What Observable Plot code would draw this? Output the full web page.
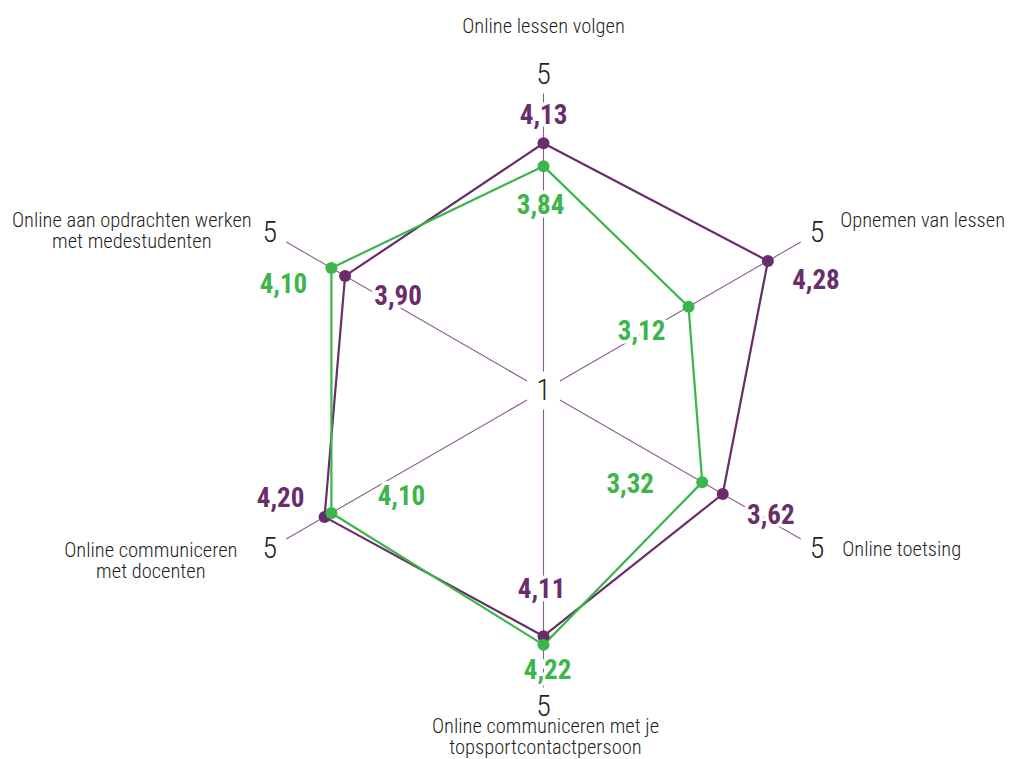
<!DOCTYPE html>
<html><head><meta charset="utf-8">
<script src="https://cdn.jsdelivr.net/npm/d3@7"></script>
<script src="https://cdn.jsdelivr.net/npm/@observablehq/plot@0.6"></script>
<style>
html,body{margin:0;padding:0;background:#fff}
#chart svg{display:block}
</style>
</head><body><div id="chart"></div>
<script>
// ---- data ----
const categories = [
  "Online lessen volgen",
  "Opnemen van lessen",
  "Online toetsing",
  "Online communiceren met je topsportcontactpersoon",
  "Online communiceren met docenten",
  "Online aan opdrachten werken met medestudenten"
];
const categoryLines = [
  "Online lessen volgen",
  "Opnemen van lessen",
  "Online toetsing",
  "Online communiceren met je\ntopsportcontactpersoon",
  "Online communiceren\nmet docenten",
  "Online aan opdrachten werken\nmet medestudenten"
];
const purpleValues = [4.13, 4.28, 3.62, 4.11, 4.20, 3.90];
const greenValues  = [3.84, 3.12, 3.32, 4.22, 4.10, 4.10];
const scaleMin = 1, scaleMax = 5;
const tickLabels = ["1", "5"];

// ---- layout / style ----
const W = 1009, H = 759, CX = 543, CY = 390, R = 316;
const PURPLE = "#682d6a", GREEN = "#3cb54a", AXIS = "#8c5a8e", INK = "#1f1f1f";
const FONT = "'Roboto Condensed', 'DejaVu Sans Condensed', 'Liberation Sans Narrow', Roboto, sans-serif";
const purpleLabelOffsets = [[0,-28],[48,19],[48,21],[-2,-47],[-44,-19],[53,20]];
const greenLabelOffsets  = [[-3,39],[-47,25],[-72,2],[4,25],[70,-17],[-48,16]];
const catOffsets = [
  {dx:0, dy:-48, anchor:"middle"},
  {dx:23, dy:-12, anchor:"start"},
  {dx:25, dy:1, anchor:"start"},
  {dx:2, dy:30, anchor:"middle"},
  {dx:-119, dy:12, anchor:"middle"},
  {dx:-138, dy:-1.5, anchor:"middle"}
];

const n = categories.length;
const angle = i => i * 2 * Math.PI / n;
const norm = v => (v - scaleMin) / (scaleMax - scaleMin);
const fmt = v => v.toFixed(2).replace(".", ",");

function series(values, name, offs) {
  return values.map((v, i) => ({
    series: name, category: categories[i], value: v,
    x: norm(v) * Math.sin(angle(i)), y: norm(v) * Math.cos(angle(i)),
    label: fmt(v), dx: offs[i][0], dy: offs[i][1]
  }));
}
const purple = series(purpleValues, "purple", purpleLabelOffsets);
const green = series(greenValues, "green", greenLabelOffsets);

const axes = categories.map((c, i) => ({
  category: c,
  x1: 0.06 * Math.sin(angle(i)), y1: 0.06 * Math.cos(angle(i)),
  x2: 0.94 * Math.sin(angle(i)), y2: 0.94 * Math.cos(angle(i))
}));
const maxTicks = categories.map((c, i) => ({
  x: Math.sin(angle(i)), y: Math.cos(angle(i)), text: tickLabels[1]
}));
const cats = categoryLines.map((t, i) => ({
  x: Math.sin(angle(i)), y: Math.cos(angle(i)), text: t, ...catOffsets[i]
}));

function valueTextMark(data, color) {
  // one mark per label so each gets its own constant dx/dy
  return data.map(d => Plot.text([d], {
    x: "x", y: "y", text: "label", dx: d.dx, dy: d.dy,
    fill: color, stroke: "white", strokeWidth: 7,
    fontSize: 27, fontWeight: 700
  }));
}

const chart = Plot.plot({
  width: W, height: H, margin: 0,
  x: {domain: [-CX / R, (W - CX) / R], axis: null},
  y: {domain: [-(H - CY) / R, CY / R], axis: null},
  style: {fontFamily: FONT, background: "white", color: INK},
  marks: [
    Plot.link(axes, {x1: "x1", y1: "y1", x2: "x2", y2: "y2", stroke: AXIS, strokeWidth: 1.1}),
    ...valueTextMark(purple, PURPLE),
    ...valueTextMark(green, GREEN),
    Plot.line(purple, {x: "x", y: "y", curve: "linear-closed", stroke: PURPLE, strokeWidth: 2.2}),
    Plot.line(green, {x: "x", y: "y", curve: "linear-closed", stroke: GREEN, strokeWidth: 2.2}),
    Plot.dot(purple, {x: "x", y: "y", r: 6, fill: PURPLE}),
    Plot.dot(green, {x: "x", y: "y", r: 6, fill: GREEN}),
    Plot.text([{x: 0, y: 0, text: tickLabels[0]}], {x: "x", y: "y", text: "text", fontSize: 30, fontWeight: 300, fill: INK, stroke: "white", strokeWidth: 10}),
    Plot.text(maxTicks, {x: "x", y: "y", text: "text", fontSize: 30, fontWeight: 300, fill: INK}),
    ...cats.map(c => Plot.text([c], {x: "x", y: "y", text: "text", dx: c.dx, dy: c.dy, textAnchor: c.anchor,
      lineAnchor: "middle", lineHeight: 1.04, fontSize: 20.5, fontWeight: 300, fill: INK}))
  ]
});
document.getElementById("chart").appendChild(chart);
</script>
</body></html>
